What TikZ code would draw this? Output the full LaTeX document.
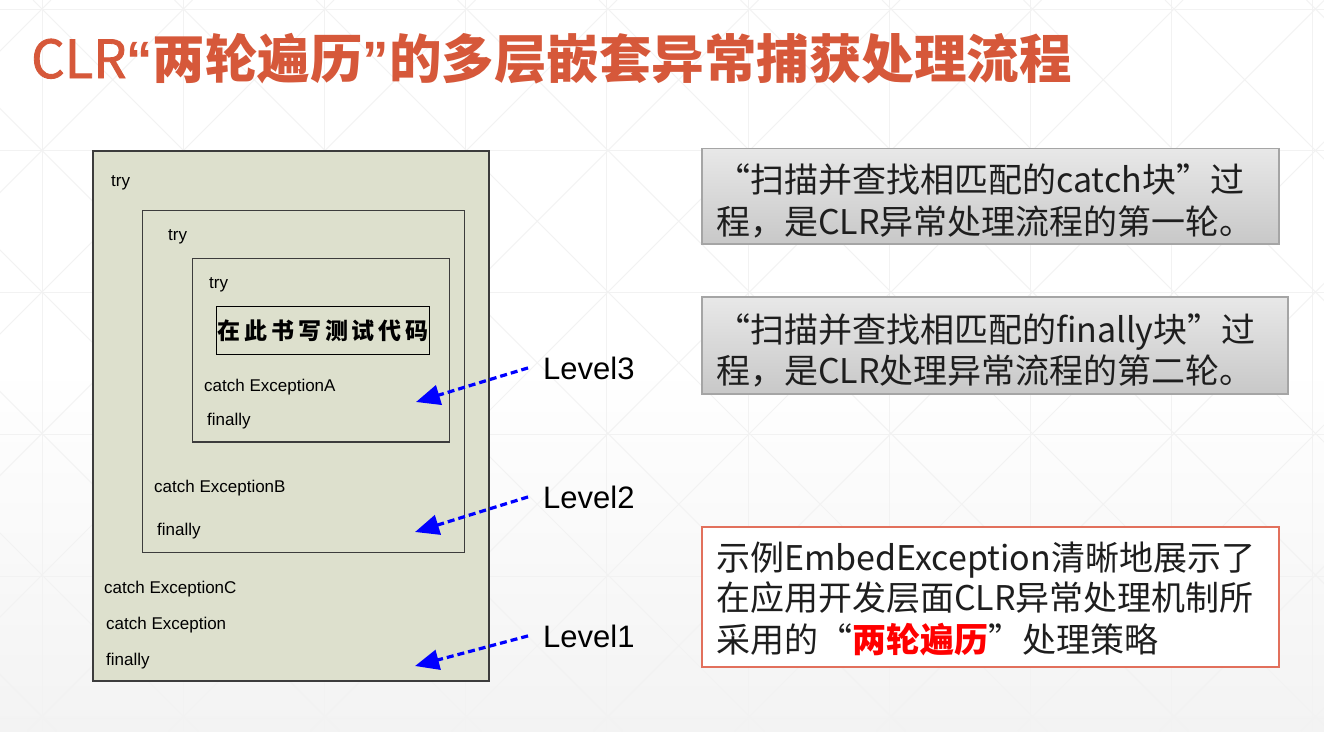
\documentclass[tikz,border=0pt]{standalone}
\usepackage{fontspec}
\setmainfont{Liberation Sans}
\newfontfamily\cjk{Noto Sans CJK SC}
\newfontfamily\cjkmed[FakeBold=1.6]{Noto Sans CJK SC}
\usetikzlibrary{arrows.meta}

\definecolor{titlecol}{RGB}{214,88,58}
\definecolor{blockfill}{RGB}{221,224,205}
\definecolor{blockline}{RGB}{60,60,60}
\definecolor{noteline}{RGB}{165,165,165}
\definecolor{redline}{RGB}{226,112,92}
\definecolor{lattice}{RGB}{242,242,242}

\tikzset{
  blk/.style={draw=blockline, line width=1.3pt, fill=blockfill, inner sep=0pt},
  codebox/.style={draw=black, line width=1.4pt, fill=blockfill, inner sep=0pt},
  kw/.style={anchor=base west, inner sep=0pt, font=\fontsize{17}{20}\selectfont},
  lvl/.style={anchor=base west, inner xsep=15pt, inner ysep=0pt, font=\fontsize{31}{36}\selectfont},
  lvlarrow/.style={draw={rgb,255:red,0;green,0;blue,255}, line width=3.2pt,
    dash pattern=on 7pt off 4pt, -{Triangle[length=24pt 0,width=20pt 0]}},
  notebox/.style={draw=noteline, line width=1.2pt, inner sep=0pt,
    top color={rgb,255:red,232;green,232;blue,232}, bottom color={rgb,255:red,200;green,200;blue,200}},
  redbox/.style={draw=redline, line width=1.5pt, fill=white, inner sep=0pt},
  noteline/.style={anchor=base west, inner sep=0pt, font=\cjk\fontsize{34}{40}\selectfont, text={rgb,255:red,30;green,30;blue,30}},
  latline/.style={draw=lattice, line width=0.8pt}
}

\begin{document}
\begin{tikzpicture}[x=1pt,y=-1pt]
% page background with a soft grey fade towards the bottom
\shade[top color=white, bottom color={rgb,255:red,243;green,243;blue,243}, middle color=white]
  (0,0) rectangle (1324,731);
\useasboundingbox (0,0) rectangle (1324,731);

% faint lattice
\begin{scope}
  \clip (0,0) rectangle (1324,731);
  \foreach \k in {-1,...,9} \draw[latline] ({42+141.2*\k},0) -- ({42+141.2*\k},731);
  \foreach \k in {0,...,5} \draw[latline] (0,{9+141.8*\k}) -- (1324,{9+141.8*\k});
  \foreach \k in {-6,...,10} \draw[latline] ({33+141.5*\k},0) -- ({33+141.5*\k+731},731);
  \foreach \k in {0,...,15} \draw[latline] ({51+141.5*\k},0) -- ({51+141.5*\k-731},731);
\end{scope}

% title
\node[anchor=base west, inner sep=0pt, text=titlecol] (title) at (31,78)
  {\fontsize{52.5}{60}\selectfont{\cjkmed CLR}{\bfseries “}{\cjk\bfseries 两轮遍历}{\bfseries ”}{\cjk\bfseries 的多层嵌套异常捕获处理流程}};

% nested try blocks
\node[blk, minimum width=396pt, minimum height=530pt] (lv1) at (291,416) {};
\node[blk, minimum width=321.6pt, minimum height=342pt] (lv2) at (303.5,381.7) {};
\node[blk, minimum width=257pt, minimum height=183.7pt] (lv3) at (320.8,350.2) {};
\node[codebox, minimum width=213pt, minimum height=47.6pt] (code) at (323.2,330.5)
  {\cjk\bfseries\fontsize{23}{26}\selectfont 在\,此\,书\,写\,测\,试\,代\,码};

\node[kw] (try1) at (111,186) {try};
\node[kw] (try2) at (168,240) {try};
\node[kw] (try3) at (209,288) {try};
\node[kw] (catA) at (204,391) {catch ExceptionA};
\node[kw] (finA) at (207,425) {finally};
\node[kw] (catB) at (154,492) {catch ExceptionB};
\node[kw] (finB) at (157,535) {finally};
\node[kw] (catC) at (104,593) {catch ExceptionC};
\node[kw] (catE) at (106,629) {catch Exception};
\node[kw] (finC) at (106,665) {finally};

% level labels and their pointers
\node[lvl] (l3) at (528,379) {Level3};
\node[lvl] (l2) at (528,508) {Level2};
\node[lvl] (l1) at (528,647) {Level1};
\coordinate (t3) at (416,402);
\coordinate (t2) at (415,532);
\coordinate (t1) at (415,666);
\draw[lvlarrow] (l3.west) -- (t3);
\draw[lvlarrow] (l2.west) -- (t2);
\draw[lvlarrow] (l1.west) -- (t1);

% notes on the right
\node[notebox, minimum width=577pt, minimum height=95.7pt] (roundA) at (990.5,196.2) {};
\node[noteline] (ra1) at (716,192) {“扫描并查找相匹配的catch块”过};
\node[noteline] (ra2) at (716,234) {程，是CLR异常处理流程的第一轮。};

\node[notebox, minimum width=586pt, minimum height=97pt] (roundB) at (995,345.5) {};
\node[noteline] (rb1) at (716,342) {“扫描并查找相匹配的finally块”过};
\node[noteline] (rb2) at (716,383) {程，是CLR处理异常流程的第二轮。};

\node[redbox, minimum width=577pt, minimum height=140pt] (summary) at (990.5,597) {};
\node[noteline] (rc1) at (716,570) {示例EmbedException清晰地展示了};
\node[noteline] (rc2) at (716,610) {在应用开发层面CLR异常处理机制所};
\node[noteline] (rc3) at (716,652) {采用的“{\bfseries\color{red}两轮遍历}”处理策略};
\end{tikzpicture}
\end{document}
